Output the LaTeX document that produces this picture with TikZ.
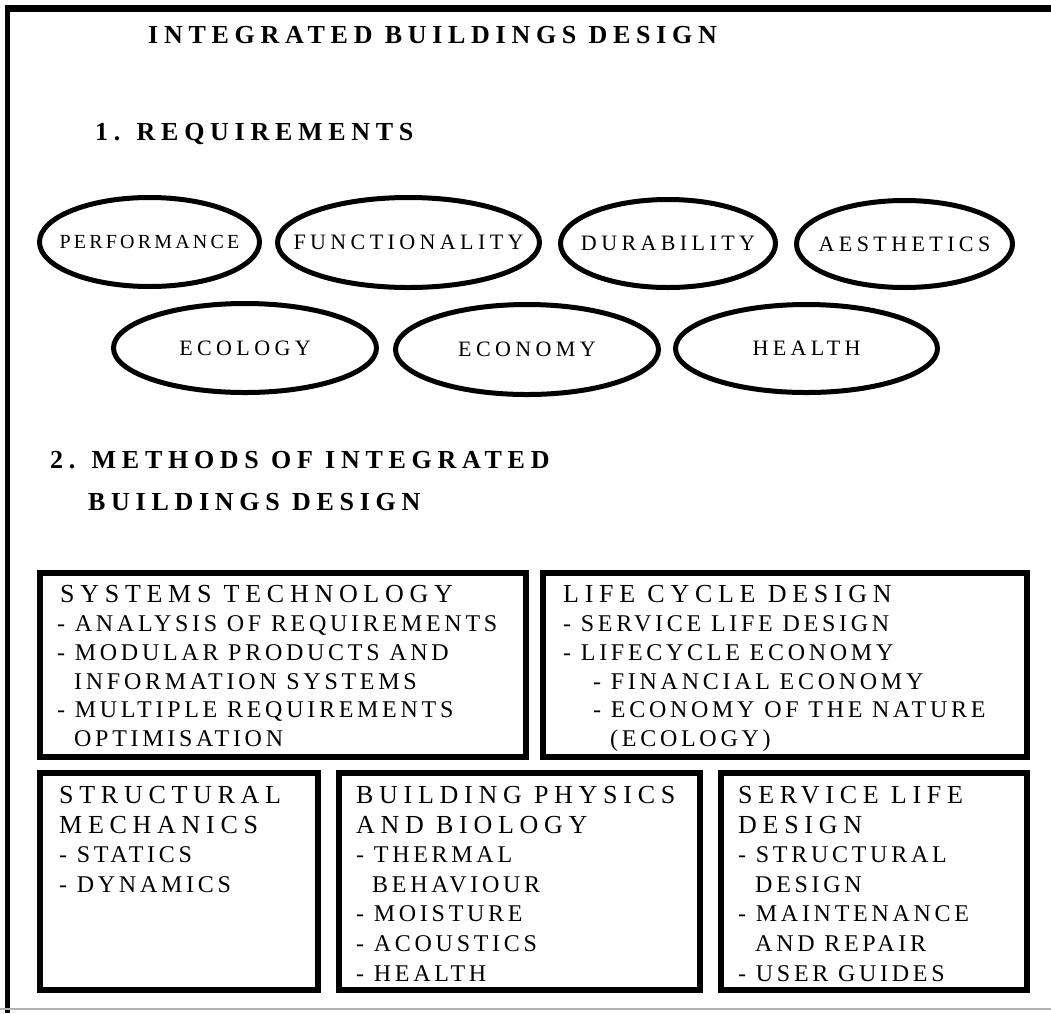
\documentclass[tikz,border=0pt]{standalone}
\usepackage{fontspec}
\setmainfont{Liberation Serif}
\newfontfamily\hdfont[LetterSpace=22]{Liberation Serif}
\newfontfamily\elfont[LetterSpace=20]{Liberation Serif}
\newfontfamily\pffont[LetterSpace=16]{Liberation Serif}
\newfontfamily\bxhfont[LetterSpace=22]{Liberation Serif}
\newfontfamily\bxifont[LetterSpace=15.5]{Liberation Serif}
\usetikzlibrary{shapes.geometric}
\newcommand\bh[1]{{\bxhfont\fontsize{26}{29.6}\selectfont #1}}
\newcommand\zw[1]{\makebox[0pt]{#1}}
\tikzset{
  ell/.style={ellipse, draw, line width=5pt, inner sep=0pt,
    font=\elfont\fontsize{22}{26}\selectfont},
  frame/.style={rectangle, draw, line width=6pt, inner sep=0pt},
  txt/.style={anchor=north west, inner sep=0pt, align=left,
    font=\bxifont\fontsize{24}{#1}\selectfont},
  txt/.default=29.6,
  head/.style={anchor=base west, inner sep=0pt,
    font=\hdfont\bfseries\fontsize{26}{30}\selectfont}
}
\begin{document}
\begin{tikzpicture}[x=1pt,y=-1pt]
\useasboundingbox (0,0) rectangle (1051,1013);
% outer frame
\coordinate (tl) at (7.5,8.5);
\coordinate (tr) at (1051,8.5);
\coordinate (lt) at (7.5,5);
\coordinate (bl) at (7.5,1013);
\coordinate (gl) at (0,1009);
\coordinate (gr) at (1051,1009);
\draw[line width=7pt] (tr) -- (tl);
\draw[line width=5pt] (lt) -- (bl);
\draw[line width=2pt, black!30] (gl) -- (gr);

% headings
\node[head] (title) at (148,43) {INTEGRATED BUILDINGS DESIGN};
\node[head] (req) at (95,140) {1. REQUIREMENTS};
\node[head] (meth1) at (50,468) {2. METHODS OF INTEGRATED};
\node[head] (meth2) at (88,510) {BUILDINGS DESIGN};

% ellipses
\node[ell, minimum width=220pt, minimum height=89pt,
  font=\pffont\fontsize{20}{24}\selectfont] (perf) at (149.5,242) {\zw{PERFORMANCE}};
\node[ell, minimum width=262pt, minimum height=90pt] (func) at (408.5,242.5) {\zw{FUNCTIONALITY}};
\node[ell, minimum width=215pt, minimum height=88pt] (dur) at (668,243.5) {\zw{DURABILITY}};
\node[ell, minimum width=216pt, minimum height=87pt] (aes) at (904.5,244) {\zw{AESTHETICS}};
\node[ell, minimum width=263pt, minimum height=89pt] (eco) at (245,348) {\zw{ECOLOGY}};
\node[ell, minimum width=263pt, minimum height=90pt] (econ) at (527,349.5) {\zw{ECONOMY}};
\node[ell, minimum width=262pt, minimum height=88pt] (hea) at (806.5,348.5) {\zw{HEALTH}};

% boxes
\node[frame, minimum width=486pt, minimum height=184pt] (st) at (283,665) {};
\node[frame, minimum width=484pt, minimum height=184pt] (lcd) at (785,665) {};
\node[frame, minimum width=278pt, minimum height=217pt] (sm) at (179,881.5) {};
\node[frame, minimum width=361pt, minimum height=217pt] (bpb) at (519.5,881.5) {};
\node[frame, minimum width=306pt, minimum height=217pt] (sld) at (874,881.5) {};

% box texts
\node[txt=28.7] (stt) at (57,585.5) {\hspace*{3pt}\bh{SYSTEMS TECHNOLOGY}\\- ANALYSIS OF REQUIREMENTS\\- MODULAR PRODUCTS AND\\\hspace*{17pt}INFORMATION SYSTEMS\\- MULTIPLE REQUIREMENTS\\\hspace*{17pt}OPTIMISATION};
\node[txt=28.7] (lcdt) at (563,585.5) {\bh{LIFE CYCLE DESIGN}\\- SERVICE LIFE DESIGN\\- LIFECYCLE ECONOMY\\\hspace*{30pt}- FINANCIAL ECONOMY\\\hspace*{30pt}- ECONOMY OF THE NATURE\\\hspace*{47pt}(ECOLOGY)};
\node[txt] (smt) at (59,786) {\bh{STRUCTURAL}\\\bh{MECHANICS}\\- STATICS\\- DYNAMICS};
\node[txt] (bpbt) at (356,786) {\bh{BUILDING PHYSICS}\\\bh{AND BIOLOGY}\\- THERMAL\\\hspace*{16pt}BEHAVIOUR\\- MOISTURE\\- ACOUSTICS\\- HEALTH};
\node[txt] (sldt) at (738,786) {\bh{SERVICE LIFE}\\\bh{DESIGN}\\- STRUCTURAL\\\hspace*{17pt}DESIGN\\- MAINTENANCE\\\hspace*{17pt}AND REPAIR\\- USER GUIDES};
\end{tikzpicture}
\end{document}
